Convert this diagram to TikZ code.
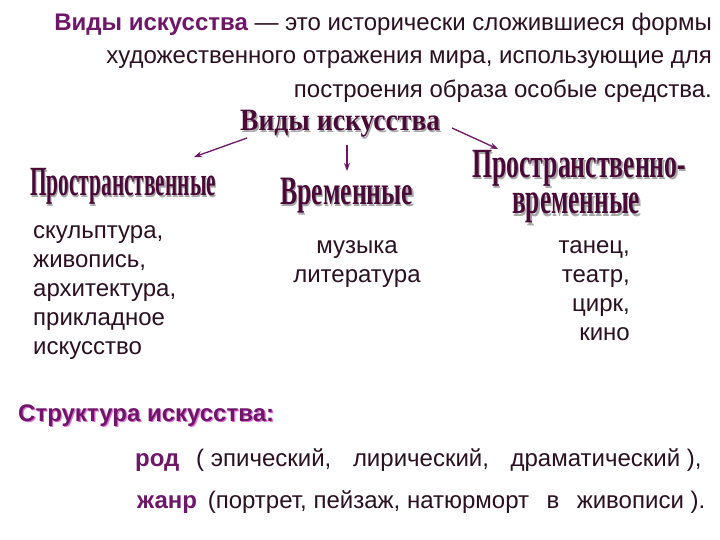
\documentclass[tikz,border=0pt]{standalone}
\usepackage{fontspec}
\setmainfont{Liberation Sans}
\newfontfamily\hfont{Liberation Serif}
\usepackage{graphicx}
\usetikzlibrary{arrows.meta,calc}
\definecolor{purp}{HTML}{6E1668}
\definecolor{headc}{HTML}{4A0A38}
\definecolor{ink}{HTML}{2A1020}
\definecolor{shade}{HTML}{A8A8A8}
\definecolor{pinksh}{HTML}{E070D8}
\newcommand\shd[3]{\rlap{\color{#1}\kern#2\smash{\raisebox{-#2}{#3}}}#3}
\newcommand\hdtext[3]{\resizebox*{#1}{#2}{\hfont\bfseries\shd{shade}{0.5pt}{#3}}}
\tikzset{
  body/.style={text=ink, inner sep=0pt, font=\fontsize{24}{29}\selectfont},
  heading/.style={text=headc, inner sep=0pt},
  arr/.style={draw=purp, line width=1.3pt, -{Stealth[length=8pt,width=6pt]}},
}
\begin{document}
\begin{tikzpicture}[x=1pt,y=1pt]
\fill[white] (0,0) rectangle (720,-540);
\useasboundingbox (0,0) rectangle (720,-540);
% definition
\node[body, anchor=base east] (d1) at (712,-31) {\textbf{\color{purp}Виды искусства} — это исторически сложившиеся формы};
\node[body, anchor=base east] (d2) at (712,-64) {художественного отражения мира, использующие для};
\node[body, anchor=base east] (d3) at (712,-98) {построения образа особые средства.};
% headings
\node[heading, anchor=north west] (vid) at (240,-110) {\hdtext{200pt}{27pt}{Виды искусства}};
\node[heading, anchor=north west] (sp) at (30,-168) {\hdtext{186pt}{36pt}{Пространственные}};
\node[heading, anchor=north west] (vr) at (280,-178) {\hdtext{133pt}{35pt}{Временные}};
\node[heading, anchor=north west] (spv1) at (472,-150) {\hdtext{214pt}{36pt}{Пространственно-}};
\node[heading, anchor=north west] (spv2) at (512,-193) {\hdtext{128pt}{30pt}{временные}};
% arrows
\coordinate (a1s) at (247,-138);
\coordinate (a1e) at (194,-157);
\coordinate (a2s) at (347,-145);
\coordinate (a2e) at (347,-171);
\coordinate (a3s) at (452,-128);
\coordinate (a3e) at (498,-149);
\draw[arr] (a1s) -- (a1e);
\draw[arr] (a2s) -- (a2e);
\draw[arr] (a3s) -- (a3e);
% lists
\node[body, anchor=north west, align=left] (l1) at (33,-225) {скульптура,\\живопись,\\архитектура,\\прикладное\\искусство};
\node[body, anchor=north, align=center] (l2) at (357,-240) {музыка\\литература};
\node[body, anchor=north east, align=right] (l3) at (630,-240) {танец,\\театр,\\цирк,\\кино};
% structure
\node[text=purp, inner sep=0pt, anchor=base west, font=\fontsize{24}{28}\selectfont\bfseries] (st) at (18,-421) {\shd{pinksh}{1.2pt}{Структура искусства:}};
\node[body, anchor=base west] (rod) at (135,-466) {\textbf{\color{purp}род}\hspace{0.7em}( эпический,\hspace{0.9em}лирический,\hspace{0.9em}драматический ),};
\node[body, anchor=base west] (zh) at (137,-508) {\textbf{\color{purp}жанр}\hspace{0.45em}(портрет, пейзаж, натюрморт\hspace{0.45em} в\hspace{0.45em} живописи ).};
\end{tikzpicture}
\end{document}
